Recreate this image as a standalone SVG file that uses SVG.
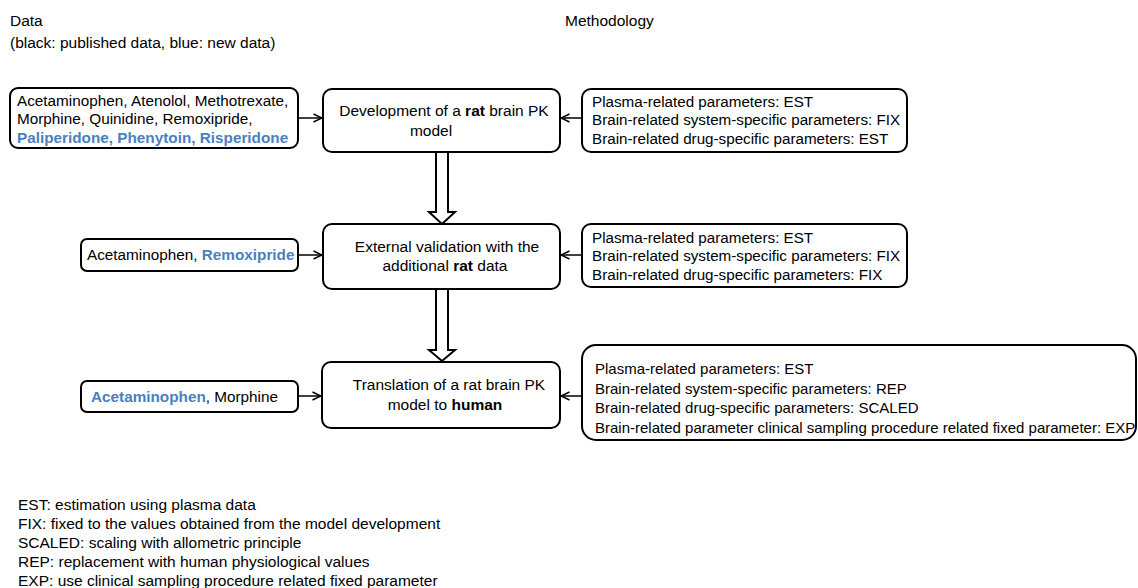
<svg xmlns="http://www.w3.org/2000/svg" width="1138" height="588" viewBox="0 0 1138 588">
<style>
text{font-family:"Liberation Sans",Arial,Helvetica,sans-serif;font-size:15.5px;fill:#000}
.d{font-size:15.3px}
.m{font-size:15.2px}
.m3{font-size:15px}
.b{font-weight:bold}
.blue{fill:#4a7fc0;font-weight:bold}
.box{fill:#fff;stroke:#000;stroke-width:2}
.ln{fill:none;stroke:#000;stroke-width:1.5}
.big{fill:#fff;stroke:#000;stroke-width:2;stroke-linejoin:miter}
</style>
<defs>
<marker id="arr" viewBox="0 0 10 10" refX="9.5" refY="5" markerWidth="10" markerHeight="10" markerUnits="userSpaceOnUse" orient="auto">
<path d="M1,1 L9.5,5 L1,9" fill="none" stroke="#000" stroke-width="1.5"/>
</marker>
</defs>
<rect width="1138" height="588" fill="#fff"/>
<g id="headers">
<text x="10" y="26">Data</text>
<text x="10" y="48">(black: published data, blue: new data)</text>
<text x="565" y="26">Methodology</text>
</g>
<g id="data1">
<rect class="box" x="10" y="88" width="288" height="60" rx="8"/>
<text class="d" x="17" y="106">Acetaminophen, Atenolol, Methotrexate,</text>
<text class="d" x="17" y="124">Morphine, Quinidine, Remoxipride,</text>
<text class="d blue" x="17" y="143">Paliperidone, Phenytoin, Risperidone</text>
</g>
<g id="step1">
<rect class="box" x="323" y="89" width="237" height="63" rx="9"/>
<text x="444" y="116" text-anchor="middle">Development of a <tspan class="b">rat</tspan> brain PK</text>
<text x="431" y="136" text-anchor="middle">model</text>
</g>
<g id="meth1">
<rect class="box" x="582" y="89" width="325" height="63" rx="9"/>
<text class="m" x="592" y="107">Plasma-related parameters: EST</text>
<text class="m" x="592" y="125">Brain-related system-specific parameters: FIX</text>
<text class="m" x="592" y="144">Brain-related drug-specific parameters: EST</text>
</g>
<g id="data2">
<rect class="box" x="81" y="239" width="217" height="32" rx="6"/>
<text class="d" x="87" y="260">Acetaminophen, <tspan class="blue">Remoxipride</tspan></text>
</g>
<g id="step2">
<rect class="box" x="323" y="224" width="237" height="65" rx="9"/>
<text x="447" y="252" text-anchor="middle">External validation with the</text>
<text x="445" y="271" text-anchor="middle">additional <tspan class="b">rat</tspan> data</text>
</g>
<g id="meth2">
<rect class="box" x="582" y="224" width="325" height="63" rx="9"/>
<text class="m" x="592" y="243">Plasma-related parameters: EST</text>
<text class="m" x="592" y="261">Brain-related system-specific parameters: FIX</text>
<text class="m" x="592" y="280">Brain-related drug-specific parameters: FIX</text>
</g>
<g id="data3">
<rect class="box" x="81" y="381" width="217" height="31" rx="6"/>
<text class="d" x="91" y="402"><tspan class="blue">Acetaminophen</tspan>, Morphine</text>
</g>
<g id="step3">
<rect class="box" x="322" y="362" width="238" height="66" rx="9"/>
<text x="449" y="390" text-anchor="middle">Translation of a rat brain PK</text>
<text x="445" y="410" text-anchor="middle">model to <tspan class="b">human</tspan></text>
</g>
<g id="meth3">
<rect class="box" x="582" y="345" width="554" height="95" rx="14"/>
<text class="m3" x="595" y="374">Plasma-related parameters: EST</text>
<text class="m3" x="595" y="394">Brain-related system-specific parameters: REP</text>
<text class="m3" x="595" y="413">Brain-related drug-specific parameters: SCALED</text>
<text class="m3" x="595" y="433">Brain-related parameter clinical sampling procedure related fixed parameter: EXP</text>
</g>
<g id="connectors">
<line class="ln" x1="298" y1="118" x2="322" y2="118" marker-end="url(#arr)"/>
<line class="ln" x1="582" y1="118" x2="561" y2="118" marker-end="url(#arr)"/>
<line class="ln" x1="298" y1="255" x2="322" y2="255" marker-end="url(#arr)"/>
<line class="ln" x1="582" y1="255" x2="561" y2="255" marker-end="url(#arr)"/>
<line class="ln" x1="298" y1="396" x2="321" y2="396" marker-end="url(#arr)"/>
<line class="ln" x1="582" y1="396" x2="561" y2="396" marker-end="url(#arr)"/>
<polygon class="big" points="436,152 448,152 448,212 455,212 442,224 429,212 436,212"/>
<polygon class="big" points="436,289 448,289 448,350 455,350 442,361 429,350 436,350"/>
</g>
<g id="legend">
<text x="18" y="510">EST: estimation using plasma data</text>
<text x="18" y="529">FIX: fixed to the values obtained from the model development</text>
<text x="18" y="548">SCALED: scaling with allometric principle</text>
<text x="18" y="567">REP: replacement with human physiological values</text>
<text x="18" y="586">EXP: use clinical sampling procedure related fixed parameter</text>
</g>
</svg>
